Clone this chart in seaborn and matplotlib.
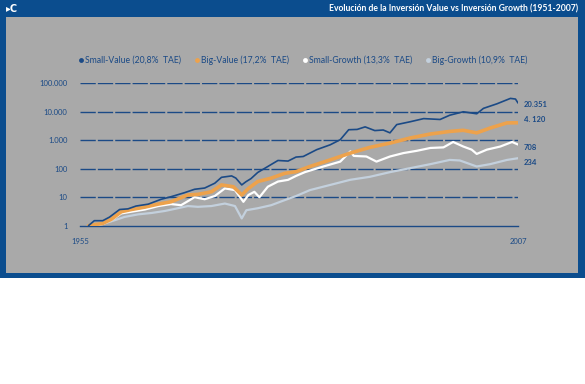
import matplotlib
matplotlib.use("Agg")
import matplotlib.pyplot as plt
from matplotlib.patches import Rectangle
from matplotlib.lines import Line2D
import seaborn as sns
import pandas as pd

# values (log scale, base 1 in 1956)
sv_years = [1956.0, 1956.7, 1957.7, 1958.5, 1959.7, 1960.7, 1961.65, 1963.1, 1964.6, 1965.8,
            1967.4, 1968.6, 1969.8, 1971.0, 1971.8, 1973.0, 1973.5, 1974.2, 1974.7, 1975.3,
            1976.1, 1977.3, 1978.5, 1979.7, 1980.65, 1981.5, 1983.1, 1984.7, 1985.9, 1986.9,
            1987.9, 1988.85, 1990.0, 1991.0, 1991.8, 1992.6, 1994.2, 1995.8, 1997.75, 1998.9,
            2000.5, 2002.1, 2002.9, 2004.5, 2006.1, 2006.7, 2007.0]
sv_vals = [1, 1.5, 1.5, 2.0, 3.7, 3.9, 4.9, 5.7, 8.4, 10.4,
           14.4, 19, 21, 31, 50, 56, 47, 27, 35, 45,
           74, 120, 195, 186, 257, 269, 468, 692, 1047, 2344,
           2400, 2951, 2188, 2291, 1820, 3548, 4467, 5754, 5370, 7586,
           10000, 8511, 13183, 19055, 29512, 28000, 20351]

bv_years = [1956.0, 1957.7, 1958.7, 1959.9, 1961.1, 1962.7, 1964.3, 1965.8, 1967.8, 1969.0,
            1970.6, 1971.8, 1973.2, 1974.2, 1975.0, 1976.1, 1977.7, 1979.3, 1980.65, 1982.3,
            1984.7, 1987.1, 1989.4, 1991.8, 1994.2, 1996.6, 1998.9, 2000.5, 2002.1, 2003.7,
            2005.7, 2007.0]
bv_vals = [1, 1.2, 1.66, 3.1, 3.7, 4.5, 5.75, 6.9, 12, 12.6,
           15.5, 27, 23.4, 12, 20.4, 35.5, 46.8, 69, 79, 120,
           204, 355, 562, 794, 1202, 1660, 2042, 2239, 1820, 2692,
           4074, 4120]

sg_years = [1956.0, 1957.7, 1958.7, 1959.9, 1961.1, 1962.7, 1964.3, 1965.8, 1967.0, 1968.6,
            1969.8, 1971.0, 1972.2, 1973.4, 1974.4, 1975.0, 1975.7, 1976.3, 1977.3, 1978.5,
            1979.7, 1980.65, 1981.7, 1983.9, 1985.9, 1987.1, 1987.5, 1989.0, 1990.2, 1991.8,
            1993.4, 1995.0, 1996.6, 1998.15, 1999.3, 2000.5, 2001.5, 2002.1, 2003.3, 2004.9,
            2006.3, 2007.0]
sg_vals = [1, 1.15, 1.55, 2.7, 3.1, 3.7, 4.9, 5.75, 5.25, 10,
           8.5, 11, 20.4, 17.8, 6.9, 12, 15.5, 10, 23.4, 35.5,
           40.7, 56, 76, 120, 178, 407, 282, 269, 178, 269,
           355, 427, 537, 562, 871, 603, 468, 331, 468, 603,
           871, 708]

bg_years = [1956.0, 1957.7, 1959.1, 1960.3, 1961.9, 1963.5, 1965.1, 1966.6, 1967.8, 1969.0,
            1970.6, 1972.2, 1973.4, 1974.2, 1974.75, 1976.1, 1977.7, 1979.3, 1980.65, 1982.3,
            1984.7, 1987.1, 1989.4, 1991.8, 1994.2, 1996.6, 1998.9, 2000.1, 2002.1, 2003.7,
            2005.7, 2007.0]
bg_vals = [1, 1.15, 1.55, 2.04, 2.5, 2.8, 3.3, 4.1, 4.9, 4.6,
           4.9, 6.0, 4.9, 1.8, 3.5, 4.1, 5.25, 7.9, 11, 17.8,
           27, 41, 52, 76, 105, 145, 204, 195, 120, 145,
           204, 234]

labels = ["Small-Value (20,8%  TAE)", "Big-Value (17,2%  TAE)",
          "Small-Growth (13,3%  TAE)", "Big-Growth (10,9%  TAE)"]
end_labels = ["20.351", "4. 120", "708", "234"]
y_ticks = [1, 10, 100, 1000, 10000, 100000]
y_tick_labels = ["1", "10", "100", "1.000", "10.000", "100.000"]
x_ticks = [1955, 2007]

navy = "#1b4a86"
blue = "#0b4d8e"
gray = "#a9a9a9"
colors = [navy, "#eda24c", "#ffffff", "#c3d0dd"]
widths = [1.2, 2.6, 1.6, 1.6]

sns.set_style("white")
plt.rcParams["font.family"] = ["Lato", "DejaVu Sans"]

fig = plt.figure(figsize=(5.85, 3.84), dpi=100)
fig.patch.set_facecolor("white")
W, H = 585, 384

# blue frame and gray panel
fig.patches.append(Rectangle((0, 1 - 278 / H), 1, 278 / H, transform=fig.transFigure,
                             facecolor=blue, edgecolor="none", zorder=-2))
fig.patches.append(Rectangle((6 / W, 1 - 273 / H), 572 / W, 256 / H, transform=fig.transFigure,
                             facecolor=gray, edgecolor="none", zorder=-1))
fig.text(6 / W, 1 - 9 / H, "\u25B8C", color="white", fontsize=7, fontweight="bold",
         va="center", ha="left", family=["DejaVu Sans"])
fig.text(578 / W, 1 - 9 / H, "Evolución de la Inversión Value vs Inversión Growth (1951-2007)",
         color="white", fontsize=6.2, fontweight="bold", va="center", ha="right")

ax = fig.add_axes([80 / W, 1 - 225.7 / H, 438 / W, 142.4 / H])
ax.set_facecolor("none")
ax.set_zorder(1)

df = pd.concat([
    pd.DataFrame({"year": sv_years, "value": sv_vals, "serie": labels[0]}),
    pd.DataFrame({"year": bv_years, "value": bv_vals, "serie": labels[1]}),
    pd.DataFrame({"year": sg_years, "value": sg_vals, "serie": labels[2]}),
    pd.DataFrame({"year": bg_years, "value": bg_vals, "serie": labels[3]}),
])

# draw back to front: light blue, white, orange, navy
for i in [3, 2, 1, 0]:
    sub = df[df["serie"] == labels[i]]
    sns.lineplot(data=sub, x="year", y="value", ax=ax, color=colors[i],
                 linewidth=widths[i], legend=False, zorder=3 + (3 - i))

ax.set_yscale("log")
ax.set_ylim(1, 100000)
ax.set_xlim(1955, 2007)
ax.set_yticks(y_ticks)
ax.set_yticklabels(y_tick_labels)
ax.set_xticks(x_ticks)
ax.set_xticklabels([str(x) for x in x_ticks])
ax.minorticks_off()
ax.set_xlabel("")
ax.set_ylabel("")

for v in y_ticks[1:]:
    ax.axhline(v, color=navy, linewidth=1.0, linestyle=(0, (11, 1.5)), zorder=2)

for s in ["top", "right", "left"]:
    ax.spines[s].set_visible(False)
ax.spines["bottom"].set_color(navy)
ax.spines["bottom"].set_linewidth(1.0)
ax.tick_params(axis="y", length=0, pad=9, labelsize=5.5, labelcolor=navy)
ax.tick_params(axis="x", length=3, width=1, color=navy, pad=6, labelsize=5.5,
               labelcolor=navy, direction="out")

end_vals = [sv_vals[-1], bv_vals[-1], sg_vals[-1], bg_vals[-1]]
offsets = [-1, 2, -2, -3]
for val, txt, off in zip(end_vals, end_labels, offsets):
    ax.annotate(txt, (2007, val), xytext=(4, off), textcoords="offset points",
                fontsize=5.5, color=navy, fontweight="bold", va="center", ha="left",
                annotation_clip=False)

handles = [Line2D([], [], linestyle="none", marker="o", markersize=3.5,
                  markerfacecolor=c, markeredgecolor="none") for c in colors]
leg = fig.legend(handles, labels, loc="center", bbox_to_anchor=(303 / W, 1 - 60 / H),
                 ncol=4, frameon=False, fontsize=6.2, handlelength=0.6, handletextpad=0.2,
                 columnspacing=1.5)
for t in leg.get_texts():
    t.set_color(navy)

fig.savefig("out.png", dpi=100, facecolor="white")
